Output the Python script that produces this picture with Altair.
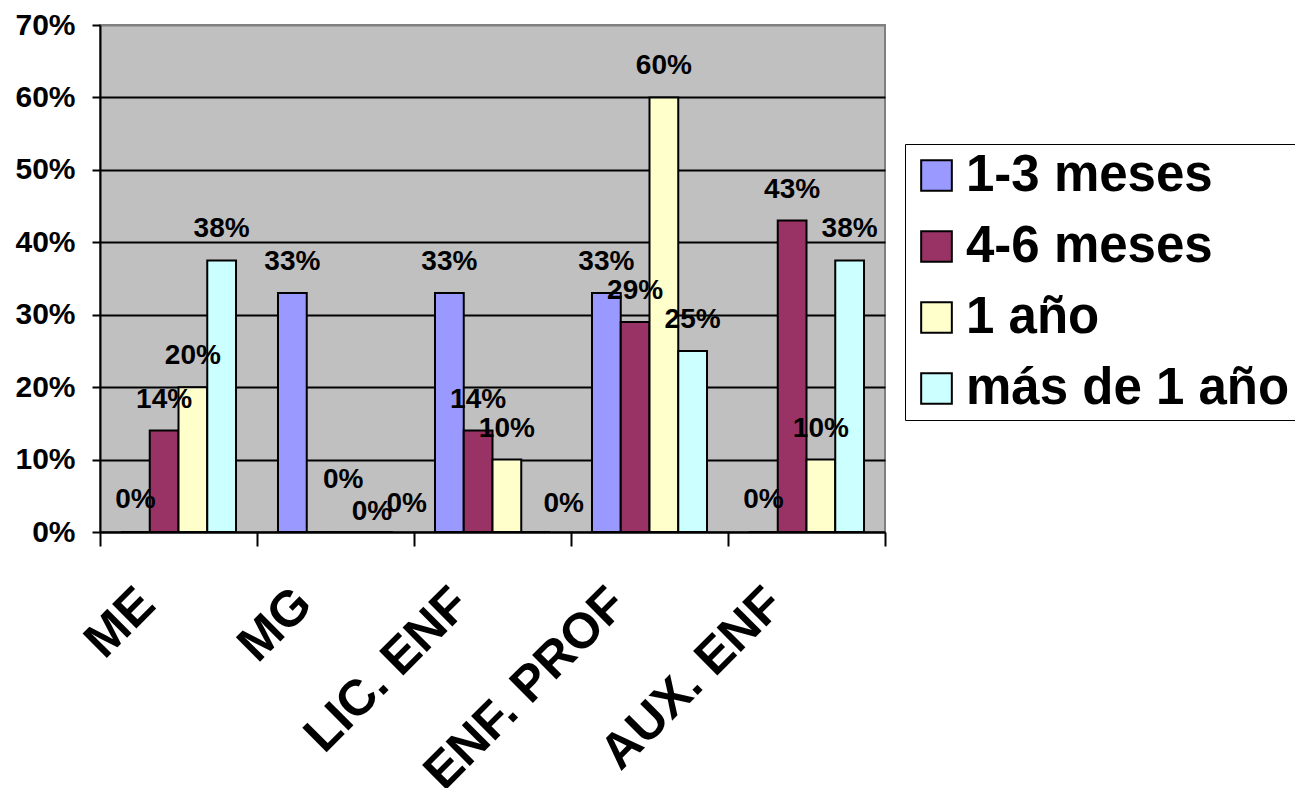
import altair as alt
import pandas as pd

categories = ["ME", "MG", "LIC. ENF", "ENF. PROF", "AUX. ENF"]
series = ["1-3 meses", "4-6 meses", "1 año", "más de 1 año"]
colors = ["#9999FF", "#993366", "#FFFFCC", "#CCFFFF"]
v_1_3 = [0.0, 0.33, 0.33, 0.33, 0.0]
v_4_6 = [0.14, 0.0, 0.14, 0.29, 0.43]
v_1a = [0.20, 0.0, 0.10, 0.60, 0.10]
v_mas = [0.375, 0.0, 0.0, 0.25, 0.375]
y_ticks = [0, 0.1, 0.2, 0.3, 0.4, 0.5, 0.6, 0.7]

rows = []
for s, vals in zip(series, [v_1_3, v_4_6, v_1a, v_mas]):
    for c, v in zip(categories, vals):
        rows.append({"cat": c, "serie": s, "val": v, "lab": f"{round(v * 100):.0f}%"})
df = pd.DataFrame(rows)

FONT = "Liberation Sans"

x = alt.X("cat:N", sort=categories, title=None,
          scale=alt.Scale(paddingInner=0, paddingOuter=0),
          axis=alt.Axis(labelAngle=-45, labelFontSize=50, labelFontWeight="bold",
                        labelFont=FONT, labelColor="black", tickBand="extent",
                        tickSize=14, tickWidth=2, tickColor="black",
                        domainColor="black", domainWidth=2, labelPadding=50,
                        labelOffset=-32, labelAlign="right", labelBaseline="middle",
                        labelLimit=500))
xo = alt.XOffset("serie:N", sort=series, scale=alt.Scale(paddingInner=0, paddingOuter=0.73))
y = alt.Y("val:Q", title=None,
          scale=alt.Scale(domain=[0, 0.7], nice=False),
          axis=alt.Axis(values=y_ticks, format=".0%", labelFontSize=30, labelFontWeight="bold",
                        labelFont=FONT, labelColor="black", tickSize=8, tickWidth=2,
                        tickColor="black", domainColor="black", domainWidth=2,
                        grid=True, gridWidth=2,
                        gridColor={"condition": {"test": "datum.value >= 0.69", "value": "#808080"},
                                   "value": "black"},
                        labelPadding=17))

bars = alt.Chart(df).mark_bar(stroke="black", strokeWidth=2).encode(
    x=x, xOffset=xo, y=y,
    color=alt.Color("serie:N", sort=series,
                    scale=alt.Scale(domain=series, range=colors),
                    legend=alt.Legend(title=None, orient="none", legendX=805, legendY=119,
                                      symbolType="square", symbolSize=940,
                                      symbolStrokeColor="black", symbolStrokeWidth=2,
                                      labelFontSize=51, labelFontWeight="bold", labelFont=FONT,
                                      labelColor="black", rowPadding=19, padding=6,
                                      strokeColor="black", fillColor="white",
                                      labelOffset=4, labelLimit=500))
)

def text_layer(filt, dy, dx=0):
    return alt.Chart(df).transform_filter(filt).mark_text(
        dy=dy, dx=dx, fontSize=28, fontWeight="bold", font=FONT, color="black"
    ).encode(
        x=alt.X("cat:N", sort=categories),
        xOffset=alt.XOffset("serie:N", sort=series),
        y="val:Q",
        text="lab:N",
    )

layers = [bars, text_layer("datum.val > 0", -31)]
zero_style = {"1-3 meses": (-32, 0), "4-6 meses": (-52, 22), "1 año": (-20, 22), "más de 1 año": (-28, 28)}
for s in series:
    dy, dx = zero_style[s]
    layers.append(text_layer(f"datum.val == 0 && datum.serie == '{s}'", dy, dx))

chart = alt.layer(*layers).properties(
    width=785, height=507,
    padding={"left": 92, "top": 17, "right": 410, "bottom": 256},
    autosize=alt.AutoSizeParams(type="none"),
).configure_view(fill="#C0C0C0", stroke="#808080", strokeWidth=2)

chart.save("out.html", embed_options={"renderer": "svg", "actions": False})
